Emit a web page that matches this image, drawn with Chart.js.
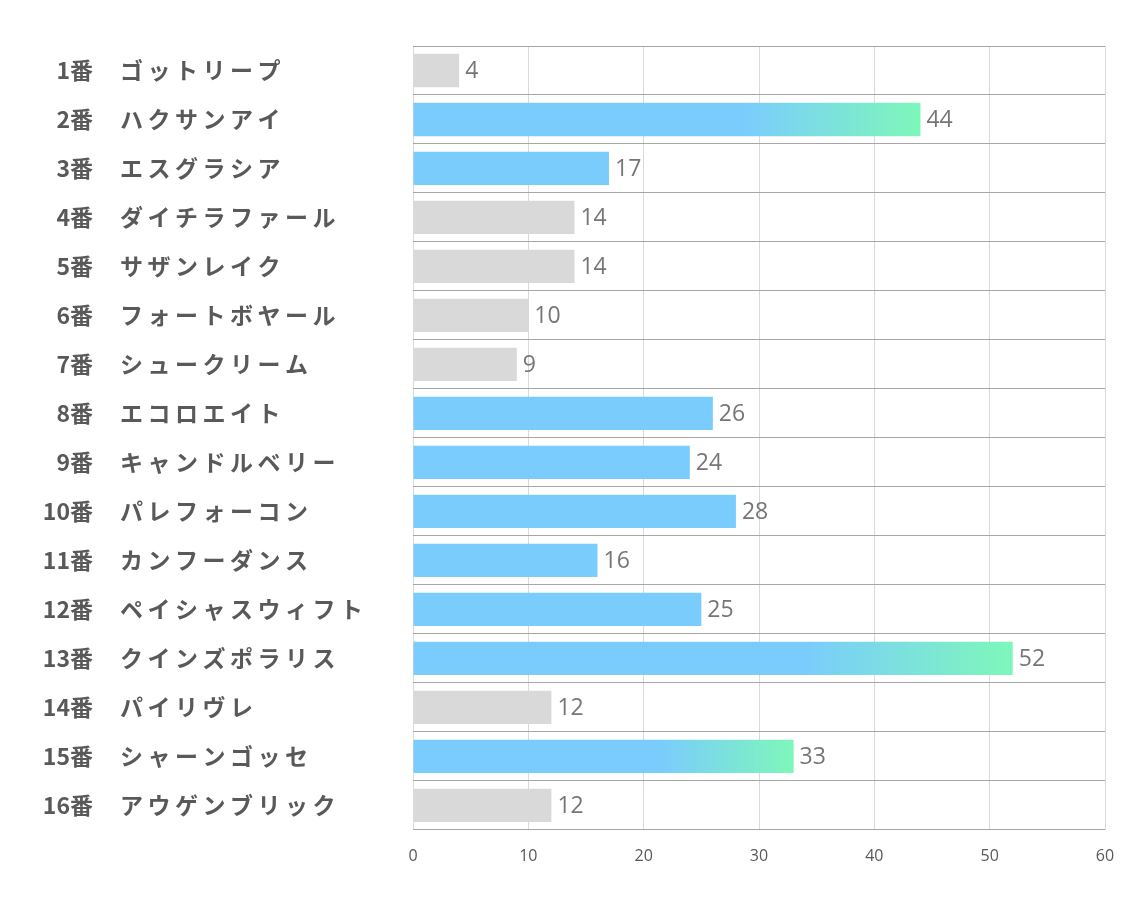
<!DOCTYPE html>
<html><head><meta charset="utf-8">
<script src="https://cdn.jsdelivr.net/npm/chart.js@4/dist/chart.umd.min.js"></script>
<style>html,body{margin:0;padding:0;background:#fff}#wrap{width:1134px;height:907px}</style>
</head><body><div id="wrap"><canvas id="c" width="1134" height="907"></canvas></div>
<script>
const numbers = ["1番","2番","3番","4番","5番","6番","7番","8番","9番","10番","11番","12番","13番","14番","15番","16番"];
const names = ["ゴットリープ","ハクサンアイ","エスグラシア","ダイチラファール","サザンレイク","フォートボヤール","シュークリーム","エコロエイト","キャンドルベリー","パレフォーコン","カンフーダンス","ペイシャスウィフト","クインズポラリス","パイリヴレ","シャーンゴッセ","アウゲンブリック"];
const values = [4,44,17,14,14,10,9,26,24,28,16,25,52,12,33,12];
const kinds = ["gray","grad","blue","gray","gray","gray","gray","blue","blue","blue","blue","blue","grad","gray","grad","gray"];
const xTicks = [0,10,20,30,40,50,60];

const BLUE = "#7accfd", GREEN = "#7ef7ba", GRAY = "#d9d9d9";
const JP = "'Noto Sans CJK JP', 'Noto Sans', sans-serif";

const labelPlugin = {
  id: 'labels',
  afterDraw(chart) {
    const ctx = chart.ctx;
    const ys = chart.scales.y;
    ctx.save();
    ctx.fillStyle = "#595959";
    ctx.textBaseline = "middle";
    numbers.forEach((n, i) => {
      const y = ys.getPixelForValue(i);
      ctx.font = "bold 23px " + JP;
      ctx.textAlign = "right";
      if ('letterSpacing' in ctx) ctx.letterSpacing = "0px";
      ctx.fillText(n, 93, y);
      ctx.textAlign = "left";
      if ('letterSpacing' in ctx) ctx.letterSpacing = "4.5px";
      ctx.fillText(names[i], 120, y);
    });
    if ('letterSpacing' in ctx) ctx.letterSpacing = "0px";
    const meta = chart.getDatasetMeta(0);
    ctx.fillStyle = "#767676";
    ctx.font = "23px 'Open Sans', " + JP;
    ctx.textAlign = "left";
    meta.data.forEach((bar, i) => {
      ctx.fillText(String(values[i]), bar.x + 6, bar.y + 1);
    });
    ctx.restore();
  }
};

new Chart(document.getElementById('c'), {
  type: 'bar',
  data: {
    labels: names,
    datasets: [{
      data: values,
      barPercentage: 0.68,
      categoryPercentage: 1,
      borderWidth: 0,
      backgroundColor: (c) => {
        const i = c.dataIndex;
        const k = kinds[i];
        if (k === "gray") return GRAY;
        if (k === "blue") return BLUE;
        const chart = c.chart;
        const xs = chart.scales.x;
        if (!xs || !chart.chartArea) return BLUE;
        const x0 = xs.getPixelForValue(0), x1 = xs.getPixelForValue(values[i]);
        if (!isFinite(x0) || !isFinite(x1) || x1 <= x0) return BLUE;
        const g = chart.ctx.createLinearGradient(x0, 0, x1, 0);
        g.addColorStop(0, BLUE);
        g.addColorStop(0.65, BLUE);
        g.addColorStop(1, GREEN);
        return g;
      }
    }]
  },
  options: {
    indexAxis: 'y',
    responsive: false,
    animation: false,
    layout: { padding: { left: 413, right: 29, top: 46, bottom: 24 } },
    plugins: { legend: { display: false }, tooltip: { enabled: false } },
    scales: {
      x: {
        min: 0, max: 60,
        afterBuildTicks: (s) => { s.ticks = xTicks.map(v => ({ value: v })); },
        grid: { color: "#d9d9d9", lineWidth: 1, drawTicks: false },
        border: { display: false },
        ticks: { color: "#595959", font: { size: 16, family: "'Open Sans', sans-serif" }, padding: 17 }
      },
      y: {
        grid: { color: "#a6a6a6", lineWidth: 1, drawTicks: false, offset: true },
        border: { display: false },
        ticks: { display: false }
      }
    }
  },
  plugins: [labelPlugin]
});
</script></body></html>
